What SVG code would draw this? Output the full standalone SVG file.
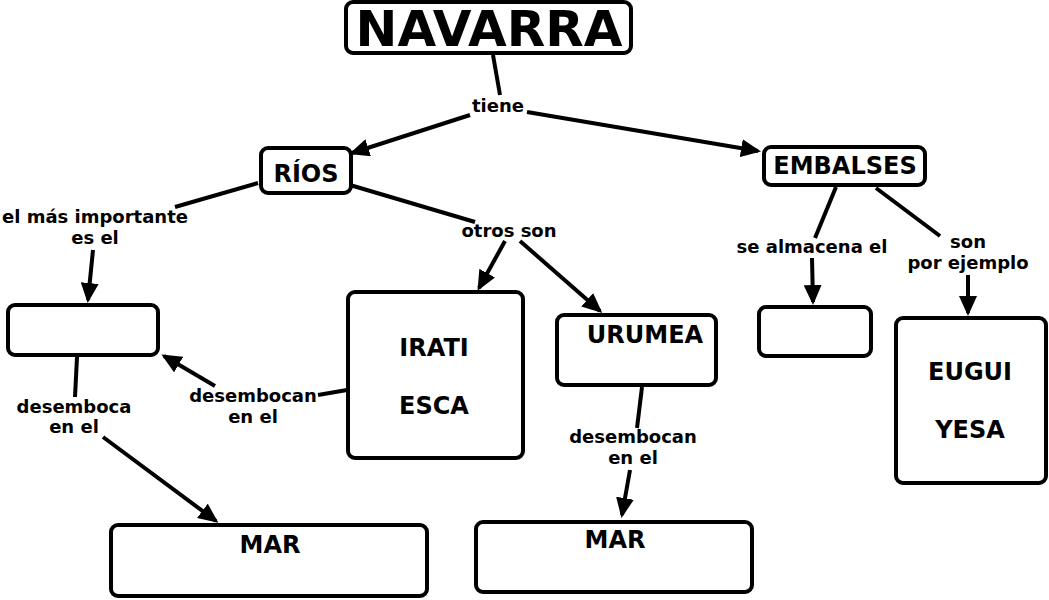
<svg xmlns="http://www.w3.org/2000/svg" width="1049" height="600" viewBox="0 0 1049 600">
<defs>
<style>
.box{fill:#fff;stroke:#000;stroke-width:4}
.t{font-family:"DejaVu Sans","Verdana",sans-serif;font-weight:bold;fill:#000;text-anchor:middle}
.lbl{font-size:18px}
.n{font-size:24px}
.c{stroke:#000;stroke-width:4;fill:none}
.a{marker-end:url(#ah)}
</style>
<marker id="ah" markerUnits="userSpaceOnUse" markerWidth="20" markerHeight="18" refX="17" refY="9" orient="auto">
<path d="M0,0 L20,9 L0,18 z" fill="#000"/>
</marker>
</defs>
<rect width="1049" height="600" fill="#fff"/>
<g id="connectors">
<line class="c" x1="493" y1="55" x2="500" y2="95"/>
<line class="c a" x1="470" y1="115" x2="352" y2="153"/>
<line class="c a" x1="527" y1="112" x2="758" y2="151"/>
<line class="c" x1="258" y1="183" x2="175" y2="207"/>
<line class="c a" x1="93" y1="250" x2="88" y2="300"/>
<line class="c" x1="350" y1="185" x2="475" y2="222"/>
<line class="c a" x1="505" y1="241" x2="479" y2="288"/>
<line class="c a" x1="520" y1="241" x2="600" y2="311"/>
<line class="c" x1="642" y1="387" x2="637" y2="428"/>
<line class="c a" x1="630" y1="470" x2="622" y2="515"/>
<line class="c" x1="77" y1="357" x2="75" y2="397"/>
<line class="c a" x1="103" y1="437" x2="216" y2="521"/>
<line class="c" x1="347" y1="390" x2="318" y2="395"/>
<line class="c a" x1="215" y1="386" x2="164" y2="356"/>
<line class="c" x1="836" y1="187" x2="815" y2="238"/>
<line class="c a" x1="812" y1="258" x2="813" y2="302"/>
<line class="c" x1="876" y1="188" x2="940" y2="236"/>
<line class="c a" x1="968" y1="275" x2="968" y2="313"/>
</g>
<g id="labels">
<text class="t lbl" x="95" y="223">el más importante</text>
<text class="t lbl" x="95" y="244">es el</text>
<text class="t lbl" x="498" y="112">tiene</text>
<text class="t lbl" x="509" y="237">otros son</text>
<text class="t lbl" x="633" y="443">desembocan</text>
<text class="t lbl" x="633" y="464">en el</text>
<text class="t lbl" x="74" y="413">desemboca</text>
<text class="t lbl" x="74" y="433">en el</text>
<text class="t lbl" x="253" y="402">desembocan</text>
<text class="t lbl" x="253" y="423">en el</text>
<text class="t lbl" x="812" y="253">se almacena el</text>
<text class="t lbl" x="968" y="248">son</text>
<text class="t lbl" x="968" y="269">por ejemplo</text>
</g>
<g id="navarra">
<rect class="box" x="346" y="2" width="285" height="51" rx="7"/>
<text class="t" x="489" y="46" font-size="50">NAVARRA</text>
</g>
<g id="rios">
<rect class="box" x="261" y="148" width="90" height="45" rx="7"/>
<text class="t n" x="306" y="182">RÍOS</text>
</g>
<g id="embalses">
<rect class="box" x="764" y="147" width="161" height="38" rx="7"/>
<text class="t n" x="845" y="174">EMBALSES</text>
</g>
<g id="rio-principal">
<rect class="box" x="8" y="305" width="150" height="50" rx="7"/>
</g>
<g id="irati-esca">
<rect class="box" x="348" y="292" width="175" height="166" rx="7"/>
<text class="t n" x="434" y="356">IRATI</text>
<text class="t n" x="434" y="414">ESCA</text>
</g>
<g id="urumea">
<rect class="box" x="557" y="315" width="159" height="70" rx="7"/>
<text class="t n" x="645" y="343">URUMEA</text>
</g>
<g id="mar-1">
<rect class="box" x="111" y="525" width="316" height="71" rx="7"/>
<text class="t n" x="270" y="553">MAR</text>
</g>
<g id="mar-2">
<rect class="box" x="476" y="522" width="276" height="70" rx="7"/>
<text class="t n" x="615" y="548">MAR</text>
</g>
<g id="agua">
<rect class="box" x="759" y="307" width="112" height="49" rx="7"/>
</g>
<g id="eugui-yesa">
<rect class="box" x="896" y="318" width="150" height="165" rx="7"/>
<text class="t n" x="970" y="380">EUGUI</text>
<text class="t n" x="970" y="438">YESA</text>
</g>
</svg>
